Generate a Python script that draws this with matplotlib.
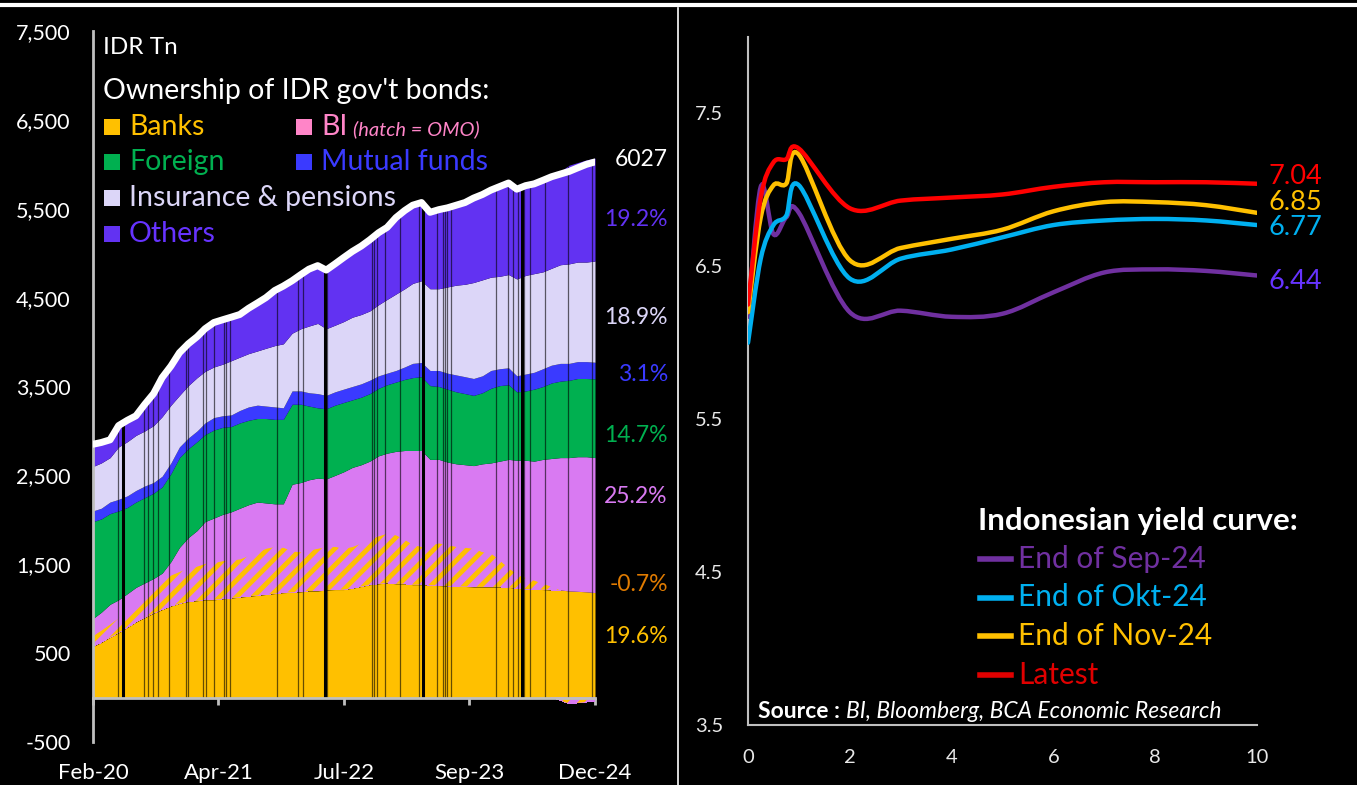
import numpy as np
import pandas as pd
import matplotlib
matplotlib.use('Agg')
import matplotlib.pyplot as plt
import matplotlib.dates as mdates
from matplotlib.lines import Line2D
from matplotlib.patches import Rectangle, PathPatch
from matplotlib.path import Path
from matplotlib.ticker import FuncFormatter

plt.rcParams['font.family'] = ['Lato', 'DejaVu Sans']
plt.rcParams['hatch.linewidth'] = 3.5

W, H = 1357, 785

# ownership of IDR gov't bonds, IDR Tn, month-start readings
months = pd.date_range('2020-02-01', '2024-12-01', freq='MS')
banks = [575, 620, 680, 730, 790, 850, 900, 950, 990, 1030,
         1060, 1080, 1090, 1100, 1100, 1110, 1120, 1130, 1140, 1150,
         1160, 1170, 1180, 1185, 1190, 1200, 1200, 1210, 1215, 1215,
         1230, 1250, 1270, 1280, 1290, 1280, 1280, 1270, 1270, 1265,
         1260, 1255, 1250, 1250, 1245, 1245, 1245, 1245, 1240, 1230,
         1220, 1220, 1215, 1210, 1210, 1200, 1195, 1190, 1181]
bi_omo = [125, 140, 150, 170, 200, 230, 280, 310, 340, 350,
          360, 380, 390, 410, 420, 430, 430, 430, 460, 490,
          520, 530, 510, 465, 450, 460, 480, 490, 485, 465,
          470, 490, 520, 540, 560, 550, 500, 450, 430, 455,
          480, 465, 450, 440, 435, 395, 380, 300, 220, 160,
          130, 100, 70, 40, -30, -70, -60, -50, -42]
bi = [190, 200, 220, 200, 180, 160, 110,
      80, 70, 150, 270, 340, 400,
      470, 500, 520, 540, 570, 570, 560, 510, 480, 490,
      750, 780, 790, 790, 760, 800, 860, 890, 880, 870, 900, 900,
      940, 1000, 1060, 1080, 960, 940, 930, 930, 930, 930, 990,
      1015, 1115, 1220, 1280, 1320, 1340, 1395, 1440, 1490, 1500, 1515, 1520, 1519]
foreign = [1090, 1050, 1020, 1000, 970, 960, 960,
           960, 970, 990, 1010, 1000, 1000,
           980, 990, 980, 960, 960, 950, 940, 950, 950, 950,
           900, 880, 830, 790, 790, 790, 780, 760, 760, 760, 760, 770,
           780, 800, 820, 830, 830, 820, 820, 810, 800, 790, 800,
           840, 850, 840, 770, 780, 810, 820, 850, 860, 870, 880, 880, 886]
mutual_funds = [120, 120, 130, 130, 130, 130, 130, 120, 120, 120, 120, 120, 120,
                130, 140, 130, 130, 140, 150, 150, 140, 140, 130,
                150, 150, 150, 160, 150, 150, 150, 150, 150, 150, 140, 130,
                130, 140, 160, 160, 170, 180, 180, 190, 190, 190, 190,
                200, 190, 190, 180, 190, 190, 200, 200, 200, 190, 190, 190, 187]
insurance_pensions = [500, 510, 500, 590, 610, 620, 620, 640, 670, 650, 580, 590, 600,
                      580, 570, 580, 610, 600, 600, 610, 650, 690, 720,
                      650, 700, 750, 790, 750, 750, 760, 780, 780, 780, 800, 830,
                      860, 880, 900, 920, 920, 920, 970, 1010, 1040, 1080, 1080,
                      1050, 1040, 1050, 1090, 1110, 1110, 1090, 1090, 1110, 1120, 1120, 1120, 1139]
others = [250, 230, 200, 240, 240, 220, 300, 360, 440, 440, 480, 470, 460,
          480, 500, 500, 490, 480, 510, 540, 570, 620, 650,
          590, 610, 640, 650, 660, 690, 720, 740, 770, 800, 810, 810,
          860, 880, 880, 880, 860, 890, 890, 900, 920, 950, 960,
          980, 1010, 1030, 1010, 1010, 1010, 1030, 1030, 1050, 1110, 1120, 1150, 1157]

# days without a reading show up as black columns through the stack
gap_days = ['2020-04-28', '2020-07-28', '2020-08-11', '2020-08-29', '2020-09-16',
            '2020-10-24', '2020-12-23', '2020-12-31', '2021-02-22', '2021-03-06',
            '2021-03-31', '2021-05-05', '2021-05-12', '2021-05-26', '2021-11-08',
            '2022-01-22', '2022-02-08', '2022-05-02', '2022-10-08', '2022-10-15',
            '2022-10-25', '2022-11-23', '2023-01-15', '2023-03-24', '2023-05-24',
            '2023-06-14', '2023-06-21', '2023-07-01', '2023-07-15', '2023-12-18',
            '2024-01-30', '2024-02-17', '2024-03-04', '2024-03-28', '2024-04-15',
            '2024-06-07', '2024-08-27', '2024-11-20']
long_gaps = ['2020-05-18', '2022-04-25', '2023-04-08', '2024-03-21']

x_tick_days = ['2020-02-01', '2021-04-17', '2022-07-02', '2023-09-16', '2024-12-01']
y_ticks_left = list(range(-500, 8000, 1000))

# Indonesian gov't yield curve, %
tenors = [0, 0.25, 0.5, 0.75, 1, 2, 3, 4, 5, 6, 7, 8, 9, 10]
curve_names = ['End of Sep-24', 'End of Okt-24', 'End of Nov-24', 'Latest']
yield_sep = [6.17, 7.02, 6.71, 6.82, 6.85, 6.20, 6.21, 6.17, 6.19, 6.33, 6.46, 6.48, 6.47, 6.44]
yield_okt = [6.00, 6.55, 6.77, 6.83, 7.03, 6.42, 6.55, 6.61, 6.69, 6.77, 6.80, 6.81, 6.80, 6.77]
yield_nov = [6.20, 6.82, 7.03, 7.04, 7.23, 6.54, 6.62, 6.68, 6.74, 6.86, 6.92, 6.92, 6.90, 6.85]
yield_latest = [6.25, 6.95, 7.18, 7.20, 7.27, 6.88, 6.93, 6.95, 6.97, 7.02, 7.05, 7.05, 7.05, 7.04]

C_BANKS = '#FFC000'
C_BI = '#D97AF2'
C_BI_KEY = '#FF85C8'
C_FOREIGN = '#00B050'
C_MUTUAL = '#3A3AFF'
C_INS = '#DCD6F8'
C_OTHERS = '#6232F2'
C_GRID = '#BFBFBF'


def px(x, y):
    return x / W, 1 - y / H


def ftext(x, y, s, **kw):
    fx, fy = px(x, y)
    kw.setdefault('va', 'center')
    return fig.text(fx, fy, s, **kw)


def smooth_path(xs, ys):
    # Catmull-Rom style bezier through the points, like a smoothed line chart
    pts = np.column_stack([xs, ys]).astype(float)
    ext = np.vstack([pts[0], pts, pts[-1]])
    verts = [pts[0]]
    codes = [Path.MOVETO]
    for i in range(len(pts) - 1):
        p0, p1, p2, p3 = ext[i], ext[i + 1], ext[i + 2], ext[i + 3]
        verts += [p1 + (p2 - p0) / 6, p2 - (p3 - p1) / 6, p2]
        codes += [Path.CURVE4] * 3
    return Path(verts, codes)


fig = plt.figure(figsize=(W / 100, H / 100), dpi=100, facecolor='black')

# ---------------- left: bond ownership ----------------
ax = fig.add_axes([93 / W, 43 / H, 502 / W, 711 / H], facecolor='black')

omo = np.array(bi_omo, dtype=float)
omo_pos = np.clip(omo, 0, None)
omo_neg = np.clip(omo, None, 0)
layers = [(banks, C_BANKS, None), (omo_pos, C_BI, '//'), (bi, C_BI, None),
          (foreign, C_FOREIGN, None), (mutual_funds, C_MUTUAL, None),
          (insurance_pensions, C_INS, None), (others, C_OTHERS, None)]
base = np.zeros(len(months))
for vals, col, hatch in layers:
    top = base + np.asarray(vals, dtype=float)
    if hatch:
        ax.fill_between(months, base, top, facecolor=C_BI, edgecolor=C_BANKS,
                        hatch=hatch, lw=0, antialiased=False, zorder=2)
    else:
        ax.fill_between(months, base, top, color=col, lw=0,
                        antialiased=False, zorder=2)
    base = top
stack_top = base
ax.fill_between(months, omo_neg, 0, facecolor=C_BI, edgecolor=C_BANKS,
                hatch='//', lw=0, antialiased=False, zorder=2)

total = stack_top + omo_neg

mnum = mdates.date2num(months)
g = pd.to_datetime(gap_days)
ax.vlines(g, 0, np.interp(mdates.date2num(g), mnum, stack_top),
          colors='black', lw=0.9, alpha=0.6, zorder=3)
lg = pd.to_datetime(long_gaps)
ax.vlines(lg, 0, np.interp(mdates.date2num(lg), mnum, stack_top),
          colors='black', lw=2.2, zorder=3)

ax.plot(months, total, color='white', lw=5, solid_capstyle='round',
        solid_joinstyle='round', zorder=4)

ax.set_xlim(months[0], months[-1])
ax.set_ylim(-500, 7500)
ax.set_yticks(y_ticks_left)
ax.yaxis.set_major_formatter(FuncFormatter(lambda v, p: f'{v:,.0f}'))
xt = pd.to_datetime(x_tick_days)
ax.set_xticks(xt)
ax.set_xticklabels([d.strftime('%b-%y') for d in xt])
for s in ['top', 'right']:
    ax.spines[s].set_visible(False)
ax.spines['left'].set_color(C_GRID)
ax.spines['left'].set_linewidth(2)
ax.spines['bottom'].set_color(C_GRID)
ax.spines['bottom'].set_linewidth(2)
ax.spines['bottom'].set_position(('data', 0))
ax.spines['bottom'].set_zorder(5)
ax.tick_params(axis='y', length=0, pad=16, labelsize=15.5, labelcolor='white')
ax.tick_params(axis='x', length=5, width=2, color=C_GRID, direction='out',
               pad=42, labelsize=16, labelcolor='white')

# end-of-period shares of the total
last_total = total[-1]
shares = [(others[-1], C_OTHERS, 5377), (insurance_pensions[-1], C_INS, 4274),
          (mutual_funds[-1], C_MUTUAL, 3633), (foreign[-1], C_FOREIGN, 2947),
          (bi[-1], C_BI, 2261), (bi_omo[-1], '#E07B00', 1271),
          (banks[-1], C_BANKS, 686)]
tx = ax.get_yaxis_transform()
for val, col, ypos in shares:
    ax.text(1.145, ypos, f'{val / last_total * 100:.1f}%', transform=tx,
            ha='right', va='center', color=col, fontsize=16.5, clip_on=False)
ax.text(1.145, 6052, f'{last_total:.0f}', transform=tx, ha='right',
        va='center', color='white', fontsize=16.5, clip_on=False)

# ---------------- right: yield curve ----------------
ax2 = fig.add_axes([748 / W, 60 / H, 509 / W, 688 / H], facecolor='black')
curve_vals = [yield_sep, yield_okt, yield_nov, yield_latest]
curve_cols = ['#7030A0', '#00B0F0', '#FFC000', '#FF0000']
label_cols = ['#6633FF', '#00B0F0', '#FFC000', '#FF0000']
label_y = [6.40, 6.755, 6.92, 7.085]
for vals, col in zip(curve_vals, curve_cols):
    ax2.add_patch(PathPatch(smooth_path(tenors, vals), fill=False,
                            edgecolor=col, lw=3.2, capstyle='round', zorder=3))
for vals, col, ly in zip(curve_vals, label_cols, label_y):
    ax2.text(10.22, ly, f'{vals[-1]:.2f}', color=col, fontsize=19.5,
             va='center', ha='left', clip_on=False)

ax2.set_xlim(0, 10)
ax2.set_ylim(3.5, 8.0)
ax2.set_xticks(range(0, 11, 2))
ax2.set_yticks([3.5, 4.5, 5.5, 6.5, 7.5])
for s in ['top', 'right']:
    ax2.spines[s].set_visible(False)
for s in ['left', 'bottom']:
    ax2.spines[s].set_color(C_GRID)
    ax2.spines[s].set_linewidth(1.5)
ax2.tick_params(axis='y', length=0, pad=18, labelsize=14.5, labelcolor='#E8E8E8')
ax2.tick_params(axis='x', length=0, pad=17, labelsize=14.5, labelcolor='#E8E8E8')

# ---------------- keys and captions ----------------
ftext(103, 47, 'IDR Tn', color='white', fontsize=17.5)
ftext(103, 91, "Ownership of IDR gov't bonds:", color='white', fontsize=20.5)
keys = [(104, 127, 'Banks', C_BANKS, C_BANKS), (296, 127, 'BI', C_BI_KEY, C_BI_KEY),
        (104, 162, 'Foreign', C_FOREIGN, C_FOREIGN),
        (296, 162, 'Mutual funds', C_MUTUAL, C_MUTUAL),
        (104, 198, 'Insurance & pensions', C_INS, C_INS),
        (104, 234, 'Others', C_OTHERS, '#6633FF')]
for x, y, name, sq, tc in keys:
    fx, fy = px(x, y + 8)
    fig.add_artist(Rectangle((fx, fy), 16 / W, 16 / H, transform=fig.transFigure,
                             facecolor=sq, edgecolor='none'))
    ftext(x + 25, y, name, color=tc, fontsize=20.5)
ftext(353, 129, '(hatch = OMO)', color=C_BI_KEY, fontsize=14.5, style='italic')

ftext(978, 521, 'Indonesian yield curve:', color='white', fontsize=22.5,
      fontweight='bold')
for i, (name, col) in enumerate(zip(curve_names, ['#7030A0', '#00B0F0', '#FFC000', '#E00000'])):
    y = 559 + i * 38.5
    fig.add_artist(Line2D([980 / W, 1011 / W], [1 - y / H] * 2, color=col, lw=4,
                          transform=fig.transFigure))
    ftext(1018, y, name, color=col, fontsize=21.5)

src = ftext(758, 712, 'Source :', color='white', fontsize=16.5, fontweight='bold')
fig.canvas.draw()
src_end = src.get_window_extent().x1
ftext(src_end + 6, 712, 'BI, Bloomberg, BCA Economic Research', color='white',
      fontsize=16.5, style='italic')

# frame lines: top rule and panel divider
fig.add_artist(Line2D([0, 1], [1 - 4.5 / H] * 2, color='white', lw=3,
                      transform=fig.transFigure))
fig.add_artist(Line2D([678 / W] * 2, [0, 1 - 8 / H], color='white', lw=1.2,
                      transform=fig.transFigure))

fig.savefig('out.png', dpi=100, facecolor='black')
